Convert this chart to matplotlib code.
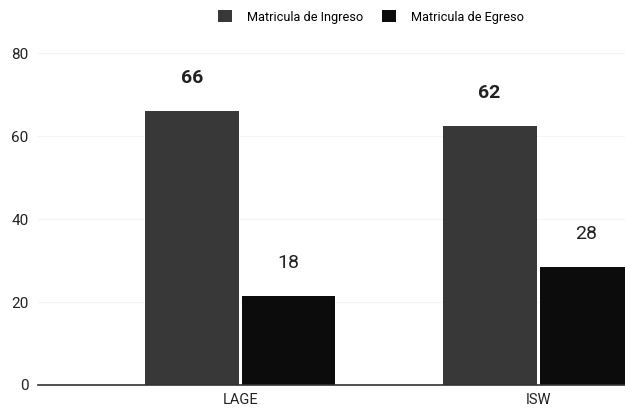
import numpy as np
import matplotlib
matplotlib.use("Agg")
import matplotlib.pyplot as plt

# datos
categorias = ["LAGE", "ISW"]
ingreso = [66, 62.4]
egreso = [21.4, 28.4]
# etiquetas escritas sobre las barras (la de LAGE egreso dice 18)
etiq_ingreso = ["66", "62"]
etiq_egreso = ["18", "28"]
series = ["Matricula de Ingreso", "Matricula de Egreso"]
yticks = [0, 20, 40, 60, 80]

plt.rcParams["font.family"] = ["Roboto", "DejaVu Sans"]

fig = plt.figure(figsize=(6.25, 4.08), dpi=100)
ax = fig.add_axes([0.061, 0.0564, 0.939, 0.8136])

x = np.arange(len(categorias))
w = 0.315
off = 0.1625

b1 = ax.bar(x - off, ingreso, w, color="#383838", label=series[0], zorder=2)
b2 = ax.bar(x + off, egreso, w, color="#0c0c0c", label=series[1], zorder=2)

for rect, t in zip(b1, etiq_ingreso):
    ax.annotate(t, (rect.get_x() + rect.get_width() / 2, rect.get_height()),
                xytext=(0, 24), textcoords="offset points", ha="center", va="center",
                fontsize=14, fontweight="bold", color="#222222")
for rect, t in zip(b2, etiq_egreso):
    ax.annotate(t, (rect.get_x() + rect.get_width() / 2, rect.get_height()),
                xytext=(0, 24), textcoords="offset points", ha="center", va="center",
                fontsize=14, color="#222222")

ax.set_xlim(-0.678, 1.292)
ax.set_ylim(0, 80)
ax.set_yticks(yticks)
ax.set_xticks(x)
ax.set_xticklabels(categorias)
ax.tick_params(axis="both", length=0, labelsize=11, colors="#222222")
ax.tick_params(axis="x", labelsize=10.5, pad=6)
ax.tick_params(axis="y", pad=7)

for s in ["top", "right", "left"]:
    ax.spines[s].set_visible(False)
ax.spines["bottom"].set_color("#333333")
ax.spines["bottom"].set_linewidth(1.2)
ax.spines["bottom"].set_zorder(3)

ax.yaxis.grid(True, color="#f4f4f4", linewidth=0.8, zorder=0)
ax.set_axisbelow(True)

fig.legend(loc="center", bbox_to_anchor=(0.594, 0.958), ncol=2, frameon=False,
           fontsize=9.2, handlelength=1.05, handleheight=1.05, handletextpad=1.2,
           columnspacing=1.5)

fig.savefig("out.png", dpi=100)
